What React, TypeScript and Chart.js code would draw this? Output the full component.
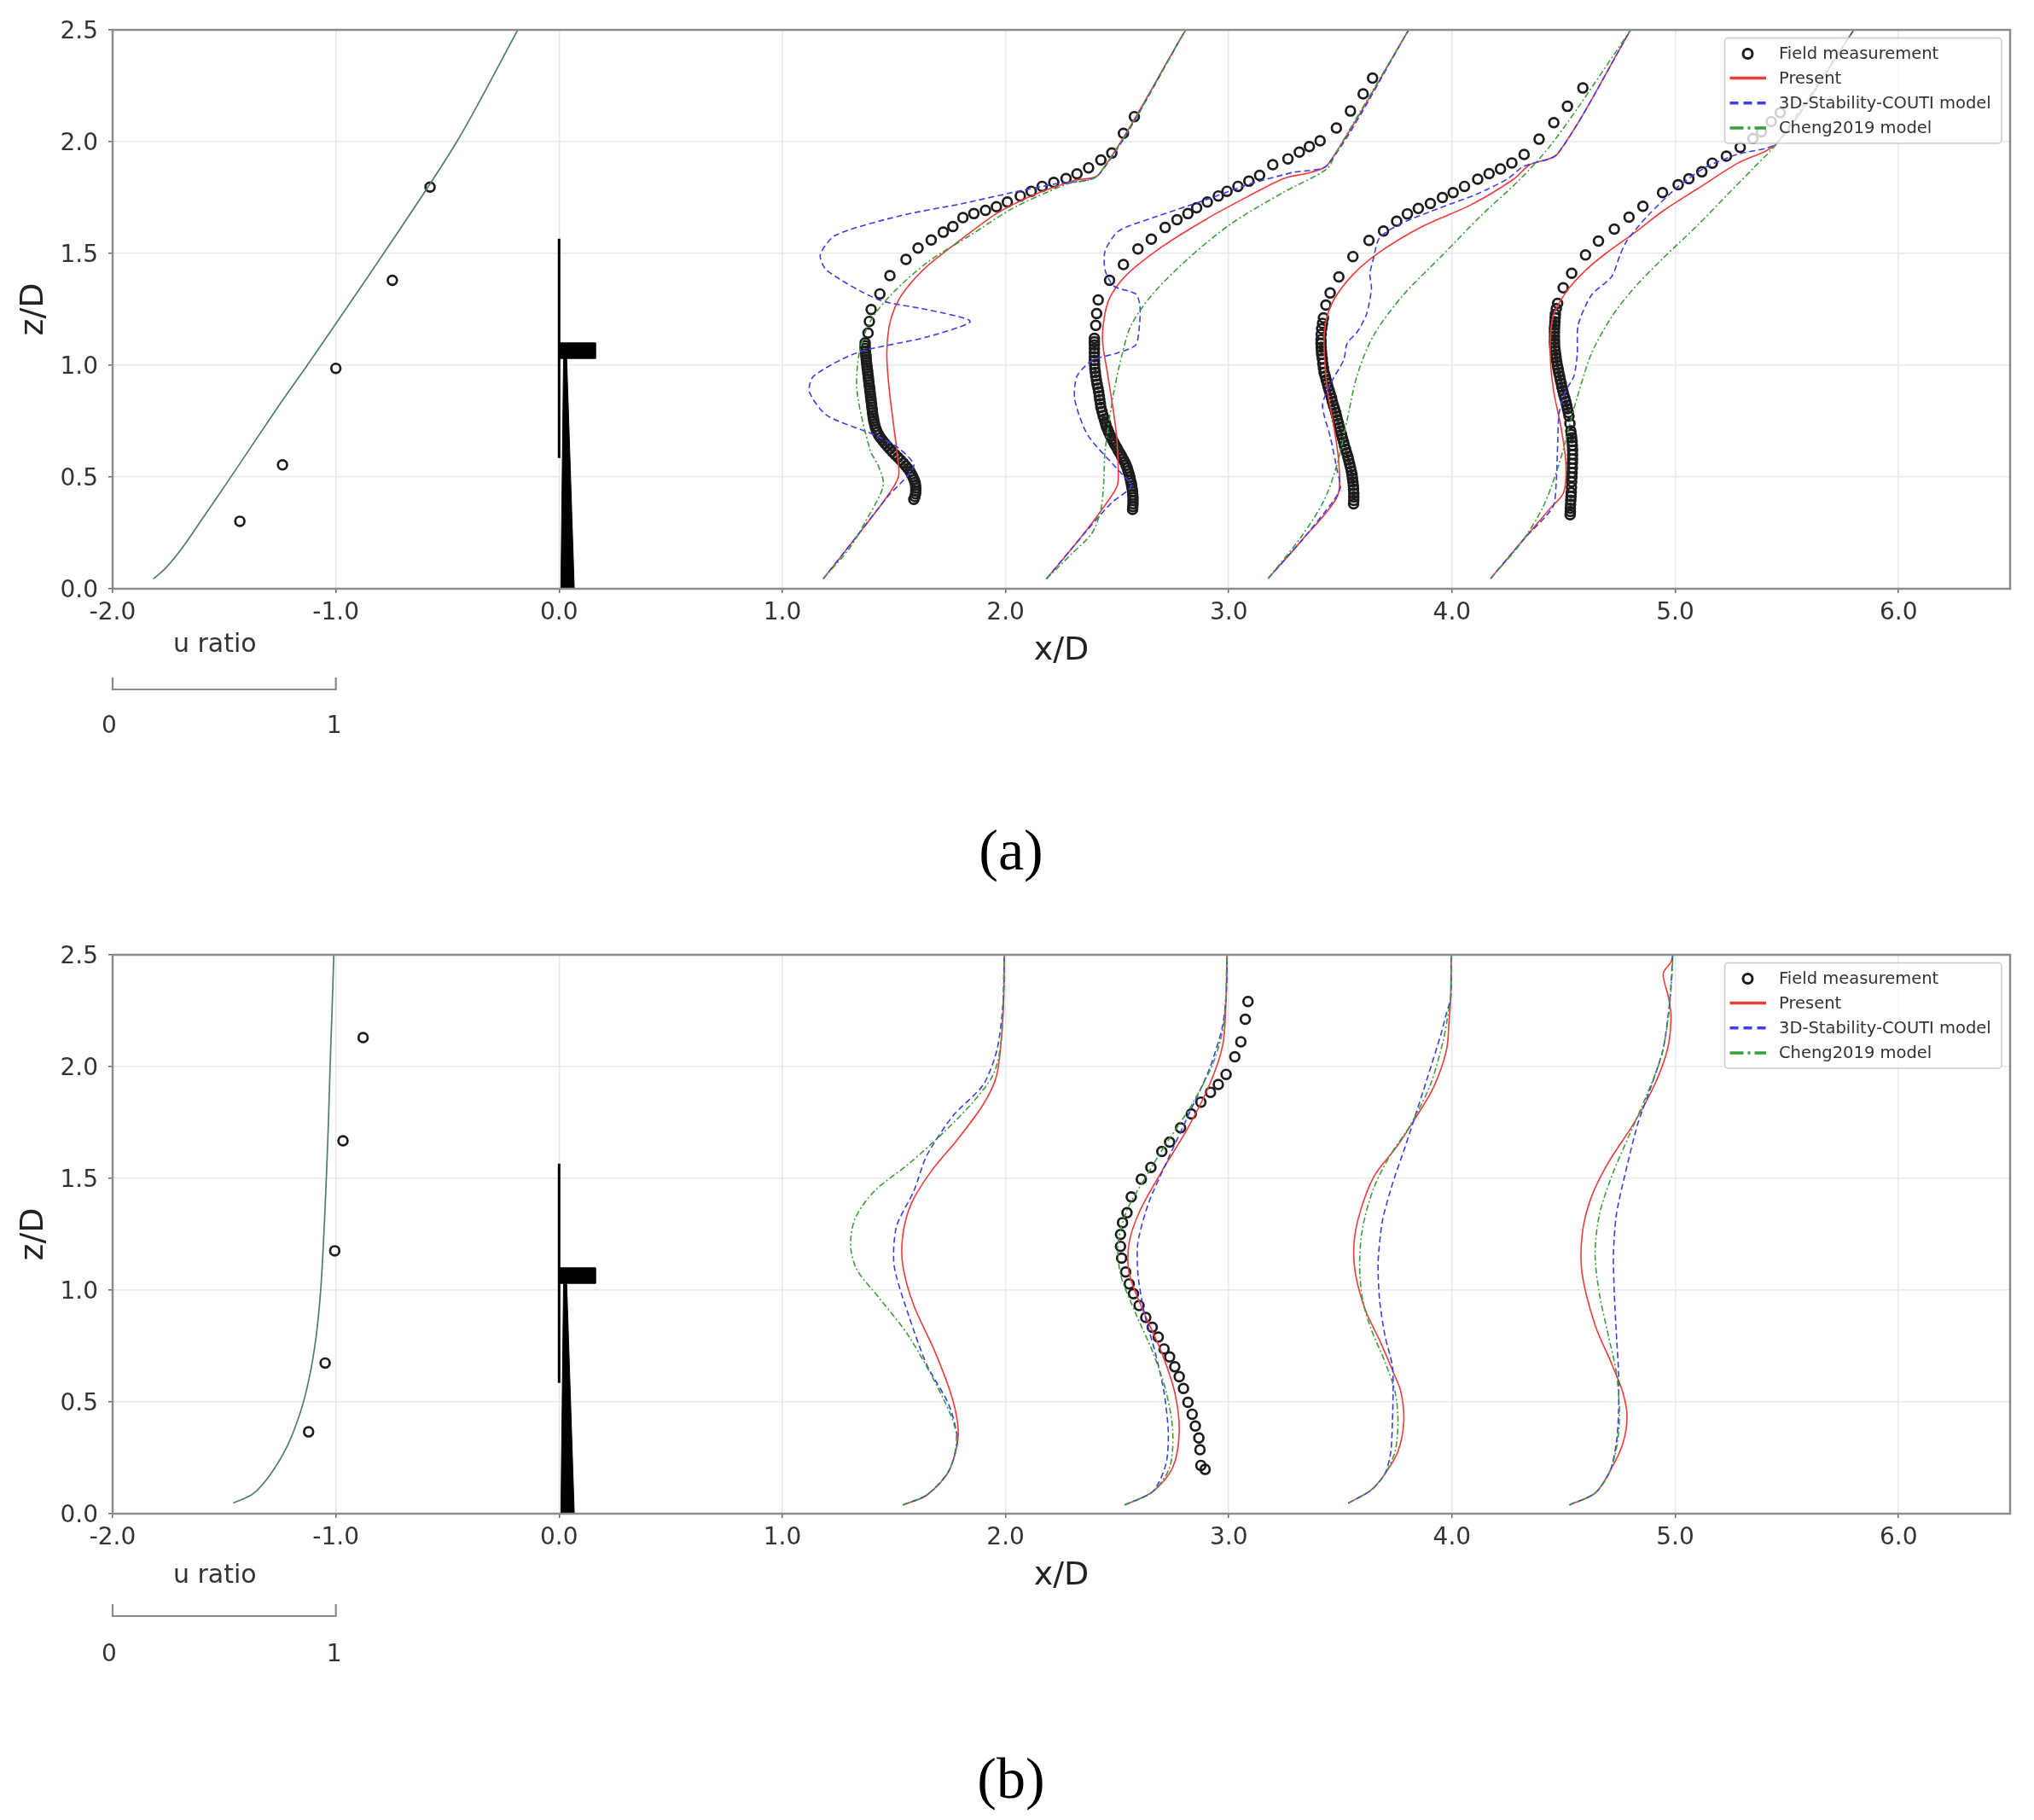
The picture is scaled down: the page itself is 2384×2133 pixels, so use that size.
import React, { useEffect, useRef } from 'react';
import { Chart, registerables } from 'chart.js';

Chart.register(...registerables);

type P = [number, number];

// ---------- axis / legend labels ----------
const xTickValues = [-2, -1, 0, 1, 2, 3, 4, 5, 6];
const yTickValues = [0, 0.5, 1.0, 1.5, 2.0, 2.5];
const legendLabels = ['Field measurement', 'Present', '3D-Stability-COUTI model', 'Cheng2019 model'];
const uRatioBarX = [-2, -1];
const uRatioLabels = ['0', '1'];
const captions = ['(a)', '(b)'];

// ---------- turbine sketch ----------
const rotorLine: P[] = [[0, 0.585], [0, 1.566]];
const nacelleShape: P[] = [[0.004, 1.03], [0.164, 1.03], [0.164, 1.1], [0.004, 1.1], [0.004, 1.03]];
const towerShape: P[] = [[0.008, 0], [0.068, 0], [0.034, 1.03], [0.02, 1.03], [0.008, 0]];

// ================= PANEL (a) =================
const aInflowModel: P[] = [[-1.817, 0.044], [-1.76, 0.095], [-1.69, 0.18], [-1.6, 0.31], [-1.45, 0.53], [-1.255, 0.82], [-1.128, 1.0], [-0.786, 1.5], [-0.458, 2.0], [-0.185, 2.5]];
const aInflowField: P[] = [[-1.43, 0.302], [-1.239, 0.554], [-1.0, 0.986], [-0.747, 1.38], [-0.578, 1.797]];

const aField1: P[] = [[1.589, 0.4], [1.597, 0.425], [1.598, 0.45], [1.595, 0.475], [1.585, 0.5], [1.572, 0.525], [1.553, 0.55], [1.53, 0.575], [1.505, 0.6], [1.482, 0.625], [1.46, 0.65], [1.44, 0.675], [1.425, 0.7], [1.416, 0.725], [1.41, 0.75], [1.406, 0.775], [1.403, 0.8], [1.4, 0.825], [1.397, 0.85], [1.394, 0.875], [1.391, 0.9], [1.388, 0.925], [1.385, 0.95], [1.382, 0.975], [1.379, 1.0], [1.376, 1.025], [1.374, 1.05], [1.371, 1.075], [1.371, 1.1], [1.384, 1.144], [1.39, 1.196], [1.398, 1.249], [1.437, 1.319], [1.482, 1.401], [1.554, 1.473], [1.608, 1.524], [1.667, 1.56], [1.721, 1.595], [1.764, 1.62], [1.809, 1.66], [1.858, 1.678], [1.91, 1.693], [1.959, 1.709], [2.008, 1.73], [2.066, 1.757], [2.115, 1.778], [2.164, 1.8], [2.216, 1.818], [2.271, 1.835], [2.32, 1.856], [2.372, 1.883], [2.427, 1.918], [2.476, 1.949], [2.528, 2.037], [2.577, 2.112],
  [1.594, 0.4125], [1.598, 0.4375], [1.597, 0.4625], [1.59, 0.4875], [1.579, 0.5125], [1.563, 0.5375], [1.542, 0.5625], [1.518, 0.5875], [1.493, 0.6125], [1.471, 0.6375], [1.45, 0.6625], [1.432, 0.6875], [1.42, 0.7125], [1.413, 0.7375], [1.408, 0.7625], [1.404, 0.7875], [1.401, 0.8125], [1.398, 0.8375], [1.395, 0.8625], [1.392, 0.8875], [1.389, 0.9125], [1.386, 0.9375], [1.383, 0.9625], [1.38, 0.9875], [1.377, 1.0125], [1.375, 1.0375], [1.372, 1.0625], [1.371, 1.0875]];
const aField2: P[] = [[2.569, 0.355], [2.571, 0.38], [2.571, 0.408], [2.569, 0.435], [2.565, 0.46], [2.56, 0.485], [2.553, 0.513], [2.545, 0.54], [2.534, 0.566], [2.52, 0.592], [2.505, 0.618], [2.49, 0.645], [2.476, 0.671], [2.462, 0.7], [2.452, 0.725], [2.446, 0.745], [2.437, 0.775], [2.427, 0.811], [2.422, 0.845], [2.417, 0.881], [2.41, 0.915], [2.404, 0.951], [2.4, 0.985], [2.398, 1.021], [2.398, 1.055], [2.398, 1.091], [2.398, 1.12], [2.404, 1.178], [2.408, 1.231], [2.415, 1.292], [2.466, 1.38], [2.528, 1.45], [2.593, 1.52], [2.653, 1.564], [2.715, 1.616], [2.768, 1.651], [2.817, 1.678], [2.856, 1.704], [2.904, 1.73], [2.953, 1.757], [2.992, 1.778], [3.041, 1.8], [3.09, 1.823], [3.138, 1.849], [3.197, 1.897], [3.265, 1.923], [3.316, 1.953], [3.361, 1.978], [3.409, 2.004], [3.482, 2.061], [3.545, 2.137], [3.602, 2.214], [3.644, 2.284],
  [2.57, 0.3675], [2.571, 0.394], [2.57, 0.421], [2.567, 0.4475], [2.563, 0.4725], [2.557, 0.499], [2.549, 0.5265], [2.54, 0.553], [2.527, 0.579], [2.513, 0.605], [2.498, 0.6315], [2.483, 0.658], [2.469, 0.6855], [2.457, 0.7125], [2.449, 0.735], [2.442, 0.76], [2.432, 0.793], [2.425, 0.828], [2.42, 0.863], [2.414, 0.898], [2.407, 0.933], [2.402, 0.968], [2.399, 1.003], [2.398, 1.038], [2.398, 1.073], [2.398, 1.105]];
const aField3: P[] = [[3.559, 0.38], [3.56, 0.41], [3.559, 0.445], [3.556, 0.478], [3.552, 0.51], [3.545, 0.543], [3.537, 0.576], [3.528, 0.608], [3.518, 0.641], [3.509, 0.674], [3.5, 0.706], [3.491, 0.739], [3.483, 0.772], [3.474, 0.805], [3.464, 0.837], [3.455, 0.87], [3.445, 0.902], [3.436, 0.935], [3.427, 0.967], [3.421, 1.008], [3.416, 1.049], [3.414, 1.08], [3.413, 1.114], [3.416, 1.163], [3.424, 1.212], [3.435, 1.269], [3.454, 1.323], [3.493, 1.395], [3.556, 1.486], [3.628, 1.558], [3.693, 1.6], [3.752, 1.644], [3.8, 1.677], [3.849, 1.701], [3.903, 1.723], [3.957, 1.75], [4.005, 1.772], [4.056, 1.8], [4.115, 1.832], [4.166, 1.857], [4.217, 1.878], [4.268, 1.905], [4.323, 1.943], [4.39, 2.011], [4.456, 2.085], [4.517, 2.158], [4.586, 2.24],
  [3.56, 0.395], [3.56, 0.4275], [3.558, 0.4615], [3.554, 0.494], [3.549, 0.5265], [3.541, 0.5595], [3.533, 0.592], [3.523, 0.6245], [3.514, 0.6575], [3.505, 0.69], [3.496, 0.7225], [3.487, 0.7555], [3.479, 0.7885], [3.469, 0.821], [3.46, 0.8535], [3.45, 0.886], [3.441, 0.9185], [3.432, 0.951], [3.424, 0.9875], [3.419, 1.0285], [3.415, 1.0645], [3.413, 1.097], [3.414, 1.1385], [3.42, 1.1875]];
const aField4: P[] = [[4.529, 0.331], [4.53, 0.36], [4.532, 0.396], [4.534, 0.43], [4.536, 0.478], [4.538, 0.52], [4.539, 0.56], [4.54, 0.6], [4.539, 0.641], [4.536, 0.676], [4.532, 0.706], [4.524, 0.772], [4.517, 0.805], [4.51, 0.837], [4.5, 0.87], [4.492, 0.902], [4.485, 0.935], [4.478, 0.967], [4.472, 1.0], [4.466, 1.033], [4.462, 1.065], [4.459, 1.098], [4.459, 1.13], [4.459, 1.163], [4.461, 1.195], [4.463, 1.228], [4.473, 1.277], [4.498, 1.346], [4.536, 1.411], [4.598, 1.493], [4.656, 1.555], [4.727, 1.609], [4.793, 1.662], [4.855, 1.711], [4.943, 1.772], [5.013, 1.807], [5.061, 1.834], [5.119, 1.865], [5.166, 1.904], [5.229, 1.935], [5.291, 1.974], [5.348, 2.014], [5.386, 2.044], [5.43, 2.09], [5.47, 2.13],
  [4.53, 0.3455], [4.531, 0.378], [4.533, 0.413], [4.535, 0.454], [4.537, 0.499], [4.539, 0.54], [4.54, 0.58], [4.54, 0.62], [4.538, 0.6585], [4.534, 0.691], [4.528, 0.739], [4.521, 0.7885], [4.514, 0.821], [4.505, 0.8535], [4.496, 0.886], [4.489, 0.9185], [4.482, 0.951], [4.475, 0.9835], [4.469, 1.0165], [4.464, 1.049], [4.46, 1.0815], [4.459, 1.114], [4.459, 1.1465], [4.46, 1.179], [4.462, 1.2115], [4.467, 1.2525]];

const aPresent1: P[] = [[1.183, 0.044], [1.33, 0.23], [1.46, 0.4], [1.52, 0.5], [1.515, 0.6], [1.5, 0.72], [1.478, 0.9], [1.468, 1.05], [1.478, 1.17], [1.505, 1.26], [1.55, 1.336], [1.647, 1.441], [1.803, 1.564], [1.959, 1.678], [2.115, 1.757], [2.31, 1.827], [2.418, 1.853], [2.807, 2.5]];
const aPresent2: P[] = [[2.183, 0.044], [2.33, 0.22], [2.45, 0.38], [2.5, 0.46], [2.505, 0.53], [2.495, 0.706], [2.456, 0.968], [2.435, 1.1], [2.44, 1.2], [2.466, 1.3], [2.544, 1.406], [2.7, 1.529], [2.895, 1.651], [3.09, 1.757], [3.246, 1.835], [3.363, 1.862], [3.443, 1.896], [3.806, 2.5]];
const aPresent3: P[] = [[3.176, 0.046], [3.33, 0.22], [3.486, 0.413], [3.493, 0.56], [3.471, 0.723], [3.442, 0.886], [3.427, 1.082], [3.435, 1.196], [3.471, 1.294], [3.559, 1.408], [3.676, 1.506], [3.866, 1.62], [4.086, 1.718], [4.276, 1.832], [4.349, 1.897], [4.473, 1.946], [4.8, 2.5]];
const aPresent4: P[] = [[4.173, 0.046], [4.32, 0.22], [4.44, 0.36], [4.5, 0.43], [4.51, 0.56], [4.488, 0.723], [4.455, 0.886], [4.44, 1.049], [4.451, 1.212], [4.51, 1.326], [4.598, 1.424], [4.689, 1.5], [4.817, 1.592], [4.945, 1.69], [5.098, 1.788], [5.277, 1.902], [5.457, 1.995], [5.8, 2.5]];

const aCouti1: P[] = [[1.183, 0.044], [1.33, 0.23], [1.47, 0.41], [1.589, 0.548], [1.52, 0.63], [1.413, 0.688], [1.199, 0.776], [1.121, 0.881], [1.14, 0.951], [1.335, 1.056], [1.647, 1.126], [1.842, 1.196], [1.647, 1.249], [1.433, 1.292], [1.199, 1.424], [1.17, 1.494], [1.238, 1.581], [1.53, 1.669], [1.803, 1.722], [2.037, 1.774], [2.212, 1.809], [2.418, 1.853], [2.807, 2.5]];
const aCouti2: P[] = [[2.183, 0.044], [2.33, 0.22], [2.47, 0.38], [2.563, 0.46], [2.505, 0.53], [2.368, 0.688], [2.31, 0.846], [2.32, 0.951], [2.388, 1.021], [2.505, 1.056], [2.583, 1.091], [2.6, 1.18], [2.602, 1.266], [2.583, 1.319], [2.485, 1.354], [2.446, 1.424], [2.446, 1.511], [2.505, 1.599], [2.661, 1.66], [2.895, 1.739], [3.09, 1.809], [3.285, 1.862], [3.443, 1.896], [3.806, 2.5]];
const aCouti3: P[] = [[3.176, 0.046], [3.33, 0.22], [3.471, 0.396], [3.5, 0.454], [3.486, 0.527], [3.456, 0.674], [3.42, 0.82], [3.456, 0.918], [3.515, 1.024], [3.53, 1.098], [3.574, 1.147], [3.617, 1.228], [3.639, 1.343], [3.632, 1.408], [3.647, 1.473], [3.676, 1.571], [3.778, 1.636], [3.939, 1.701], [4.115, 1.767], [4.247, 1.832], [4.32, 1.889], [4.473, 1.946], [4.8, 2.5]];
const aCouti4: P[] = [[4.173, 0.046], [4.32, 0.22], [4.451, 0.364], [4.466, 0.462], [4.473, 0.641], [4.48, 0.788], [4.51, 0.886], [4.546, 0.951], [4.561, 1.049], [4.565, 1.18], [4.625, 1.314], [4.715, 1.396], [4.753, 1.494], [4.785, 1.559], [4.881, 1.673], [5.009, 1.796], [5.137, 1.886], [5.277, 1.943], [5.457, 1.995], [5.8, 2.5]];

const aCheng1: P[] = [[1.183, 0.044], [1.3, 0.18], [1.374, 0.303], [1.452, 0.461], [1.43, 0.55], [1.394, 0.618], [1.335, 0.881], [1.345, 1.056], [1.394, 1.196], [1.491, 1.319], [1.65, 1.46], [1.842, 1.581], [2.037, 1.704], [2.271, 1.809], [2.418, 1.853], [2.807, 2.5]];
const aCheng2: P[] = [[2.183, 0.044], [2.3, 0.16], [2.388, 0.25], [2.427, 0.355], [2.44, 0.48], [2.446, 0.618], [2.485, 0.88], [2.524, 1.056], [2.563, 1.18], [2.66, 1.319], [2.817, 1.476], [3.012, 1.634], [3.246, 1.774], [3.44, 1.879], [3.48, 1.95], [3.806, 2.5]];
const aCheng3: P[] = [[3.176, 0.046], [3.325, 0.233], [3.427, 0.396], [3.486, 0.56], [3.53, 0.755], [3.574, 0.951], [3.647, 1.13], [3.778, 1.31], [3.954, 1.489], [4.13, 1.669], [4.305, 1.832], [4.437, 1.978], [4.568, 2.158], [4.8, 2.5]];
const aCheng4: P[] = [[4.173, 0.046], [4.305, 0.2], [4.407, 0.364], [4.48, 0.56], [4.524, 0.723], [4.561, 0.857], [4.625, 1.053], [4.715, 1.216], [4.817, 1.347], [4.945, 1.478], [5.098, 1.624], [5.226, 1.755], [5.354, 1.886], [5.457, 1.995], [5.8, 2.5]];

// ================= PANEL (b) =================
const bInflowModel: P[] = [[-1.46, 0.048], [-1.372, 0.088], [-1.294, 0.175], [-1.216, 0.306], [-1.157, 0.46], [-1.118, 0.613], [-1.089, 0.788], [-1.069, 0.985], [-1.056, 1.204], [-1.044, 1.467], [-1.034, 1.729], [-1.026, 1.992], [-1.017, 2.255], [-1.009, 2.5]];
const bInflowField: P[] = [[-1.122, 0.366], [-1.048, 0.674], [-1.005, 1.176], [-0.968, 1.668], [-0.878, 2.13]];

const bField2: P[] = [[2.894, 0.198], [2.875, 0.216], [2.871, 0.286], [2.866, 0.339], [2.85, 0.392], [2.836, 0.445], [2.817, 0.498], [2.797, 0.56], [2.778, 0.613], [2.758, 0.657], [2.735, 0.701], [2.71, 0.737], [2.684, 0.79], [2.657, 0.834], [2.628, 0.878], [2.598, 0.931], [2.573, 0.984], [2.554, 1.028], [2.538, 1.081], [2.52, 1.143], [2.515, 1.196], [2.515, 1.249], [2.524, 1.302], [2.544, 1.346], [2.563, 1.417], [2.608, 1.496], [2.651, 1.549], [2.7, 1.62], [2.735, 1.662], [2.784, 1.726], [2.832, 1.788], [2.875, 1.841], [2.918, 1.885], [2.953, 1.92], [2.988, 1.965], [3.027, 2.044], [3.054, 2.111], [3.074, 2.212], [3.086, 2.291]];

const bPresent1: P[] = [[1.54, 0.039], [1.647, 0.083], [1.745, 0.189], [1.788, 0.348], [1.764, 0.507], [1.686, 0.719], [1.589, 0.931], [1.54, 1.108], [1.54, 1.249], [1.579, 1.39], [1.667, 1.532], [1.784, 1.673], [1.901, 1.832], [1.959, 1.956], [1.982, 2.133], [1.992, 2.309], [1.994, 2.5]];
const bPresent2: P[] = [[2.534, 0.039], [2.661, 0.1], [2.749, 0.207], [2.778, 0.366], [2.758, 0.542], [2.7, 0.719], [2.622, 0.896], [2.554, 1.072], [2.554, 1.214], [2.602, 1.355], [2.7, 1.532], [2.817, 1.726], [2.914, 1.92], [2.973, 2.097], [2.988, 2.309], [2.992, 2.5]];
const bPresent3: P[] = [[3.535, 0.047], [3.637, 0.105], [3.7, 0.179], [3.758, 0.279], [3.784, 0.412], [3.771, 0.545], [3.739, 0.628], [3.675, 0.777], [3.612, 0.91], [3.567, 1.076], [3.561, 1.209], [3.586, 1.342], [3.65, 1.508], [3.752, 1.641], [3.828, 1.757], [3.917, 1.907], [3.975, 2.073], [3.987, 2.206], [3.994, 2.306], [3.996, 2.5]];
const bPresent4: P[] = [[4.526, 0.039], [4.641, 0.092], [4.707, 0.189], [4.765, 0.313], [4.784, 0.436], [4.765, 0.542], [4.717, 0.666], [4.641, 0.843], [4.583, 1.072], [4.583, 1.249], [4.621, 1.408], [4.698, 1.567], [4.813, 1.744], [4.908, 1.92], [4.966, 2.08], [4.981, 2.221], [4.97, 2.309], [4.946, 2.415], [4.981, 2.468], [4.989, 2.5]];

const bCouti1: P[] = [[1.54, 0.039], [1.647, 0.083], [1.745, 0.189], [1.784, 0.33], [1.745, 0.489], [1.647, 0.666], [1.569, 0.878], [1.501, 1.108], [1.511, 1.284], [1.589, 1.443], [1.647, 1.602], [1.764, 1.779], [1.901, 1.92], [1.963, 2.08], [1.99, 2.3], [1.994, 2.5]];
const bCouti2: P[] = [[2.534, 0.039], [2.661, 0.1], [2.719, 0.224], [2.729, 0.366], [2.71, 0.542], [2.671, 0.719], [2.622, 0.896], [2.593, 1.072], [2.593, 1.214], [2.641, 1.39], [2.719, 1.567], [2.817, 1.779], [2.914, 1.991], [2.973, 2.185], [2.99, 2.35], [2.992, 2.5]];
const bCouti3: P[] = [[3.535, 0.047], [3.637, 0.105], [3.7, 0.179], [3.726, 0.279], [3.733, 0.412], [3.736, 0.545], [3.733, 0.661], [3.7, 0.794], [3.675, 0.96], [3.669, 1.126], [3.688, 1.309], [3.733, 1.475], [3.79, 1.641], [3.828, 1.757], [3.892, 1.957], [3.949, 2.14], [3.975, 2.239], [3.994, 2.306], [3.996, 2.5]];
const bCouti4: P[] = [[4.526, 0.039], [4.641, 0.092], [4.707, 0.189], [4.736, 0.313], [4.746, 0.454], [4.746, 0.631], [4.736, 0.807], [4.727, 0.984], [4.723, 1.161], [4.736, 1.337], [4.774, 1.514], [4.832, 1.744], [4.889, 1.903], [4.946, 2.08], [4.975, 2.291], [4.989, 2.5]];

const bCheng1: P[] = [[1.54, 0.039], [1.647, 0.083], [1.745, 0.189], [1.78, 0.348], [1.725, 0.507], [1.569, 0.79], [1.433, 0.966], [1.335, 1.09], [1.306, 1.196], [1.326, 1.32], [1.413, 1.443], [1.569, 1.567], [1.725, 1.708], [1.862, 1.85], [1.949, 1.973], [1.982, 2.133], [1.994, 2.5]];
const bCheng2: P[] = [[2.534, 0.039], [2.661, 0.1], [2.735, 0.207], [2.749, 0.366], [2.72, 0.542], [2.661, 0.719], [2.583, 0.896], [2.515, 1.072], [2.505, 1.214], [2.545, 1.36], [2.622, 1.496], [2.719, 1.655], [2.836, 1.832], [2.934, 2.026], [2.979, 2.203], [2.992, 2.5]];
const bCheng3: P[] = [[3.535, 0.047], [3.637, 0.105], [3.7, 0.179], [3.745, 0.279], [3.758, 0.412], [3.745, 0.545], [3.7, 0.678], [3.637, 0.827], [3.599, 0.96], [3.586, 1.11], [3.599, 1.276], [3.65, 1.458], [3.726, 1.608], [3.815, 1.741], [3.905, 1.924], [3.962, 2.123], [3.983, 2.239], [3.994, 2.306], [3.996, 2.5]];
const bCheng4: P[] = [[4.526, 0.039], [4.641, 0.092], [4.707, 0.189], [4.74, 0.313], [4.75, 0.454], [4.736, 0.631], [4.698, 0.807], [4.66, 0.984], [4.641, 1.161], [4.66, 1.337], [4.717, 1.514], [4.793, 1.691], [4.87, 1.867], [4.937, 2.044], [4.969, 2.221], [4.985, 2.4], [4.989, 2.5]];

// ---------- styles ----------
const FONT = "'DejaVu Sans', 'Liberation Sans', sans-serif";
const COLORS = {
  field: '#1c1c1c',
  present: '#f23a3a',
  couti: '#3c3cf0',
  cheng: '#3a9f3a',
  inflow: '#4f7d72',
  spine: '#8c8c8c',
  grid: '#e9e9e9',
  text: '#333333',
};
const DASH_COUTI = [7, 4];
const DASH_CHENG = [7, 3, 2, 3];

type Panel = {
  inflowModel: P[];
  inflowField: P[];
  field: P[][];
  present: P[][];
  couti: P[][];
  cheng: P[][];
  decor: number[];
};

const panelA: Panel = {
  inflowModel: aInflowModel,
  inflowField: aInflowField,
  field: [aField1, aField2, aField3, aField4],
  present: [aPresent1, aPresent2, aPresent3, aPresent4],
  couti: [aCouti1, aCouti2, aCouti3, aCouti4],
  cheng: [aCheng1, aCheng2, aCheng3, aCheng4],
  decor: [66, 118, 162],
};
const panelB: Panel = {
  inflowModel: bInflowModel,
  inflowField: bInflowField,
  field: [bField2],
  present: [bPresent1, bPresent2, bPresent3, bPresent4],
  couti: [bCouti1, bCouti2, bCouti3, bCouti4],
  cheng: [bCheng1, bCheng2, bCheng3, bCheng4],
  decor: [73, 120, 166],
};

const toXY = (arr: P[]) => arr.map(([x, y]) => ({ x, y }));

function lineDs(label: string, data: P[], color: string, dash: number[], order: number, width = 1.6, tension = 0.3) {
  return {
    label,
    data: toXY(data),
    showLine: true,
    borderColor: color,
    backgroundColor: color,
    borderWidth: width,
    borderDash: dash,
    pointRadius: 0,
    pointHoverRadius: 0,
    tension,
    fill: false,
    order,
  };
}

function buildDatasets(p: Panel) {
  const ds: any[] = [];
  ds.push({ label: 'tower', data: toXY(towerShape), showLine: true, borderColor: '#000', backgroundColor: '#000', borderWidth: 1, pointRadius: 0, tension: 0, fill: 'shape', order: 9 });
  ds.push({ label: 'nacelle', data: toXY(nacelleShape), showLine: true, borderColor: '#000', backgroundColor: '#000', borderWidth: 1, pointRadius: 0, tension: 0, fill: 'shape', order: 9 });
  ds.push({ label: 'rotor', data: toXY(rotorLine), showLine: true, borderColor: '#000', borderWidth: 3, pointRadius: 0, tension: 0, fill: false, order: 9 });
  const allField = [p.inflowField, ...p.field].flat();
  ds.push({
    label: legendLabels[0],
    data: toXY(allField),
    showLine: false,
    pointStyle: 'circle',
    pointRadius: 5.4,
    pointBorderWidth: 2.7,
    borderColor: COLORS.field,
    backgroundColor: 'rgba(255,255,255,0)',
    order: 8,
  });
  ds.push(lineDs('inflow', p.inflowModel, COLORS.inflow, [], 5, 1.7, 0.3));
  p.present.forEach((d) => ds.push(lineDs(legendLabels[1], d, COLORS.present, [], 3)));
  p.couti.forEach((d) => ds.push(lineDs(legendLabels[2], d, COLORS.couti, DASH_COUTI, 2, 1.6, 0.25)));
  p.cheng.forEach((d) => ds.push(lineDs(legendLabels[3], d, COLORS.cheng, DASH_CHENG, 1)));
  return ds;
}

const decorPlugin = {
  id: 'decor',
  afterDatasetsDraw(chart: any) {
    const { ctx, chartArea: ca } = chart;
    ctx.save();
    ctx.strokeStyle = COLORS.spine;
    ctx.lineWidth = 2.5;
    ctx.setLineDash([]);
    ctx.strokeRect(ca.left, ca.top, ca.right - ca.left, ca.bottom - ca.top);

    const L = ca.right - 334.5;
    const T = ca.top + 9.5;
    const W = 324.5;
    const H = 123.5;
    ctx.beginPath();
    if (ctx.roundRect) ctx.roundRect(L, T, W, H, 4);
    else ctx.rect(L, T, W, H);
    ctx.fillStyle = 'rgba(255,255,255,0.8)';
    ctx.fill();
    ctx.strokeStyle = 'rgba(200,200,200,0.9)';
    ctx.lineWidth = 1.5;
    ctx.stroke();

    const rows = [18.5, 47, 76.3, 105.6];
    const sx0 = L + 6;
    const sx1 = L + 48.5;
    ctx.beginPath();
    ctx.arc(L + 27, T + rows[0], 5.5, 0, Math.PI * 2);
    ctx.strokeStyle = COLORS.field;
    ctx.lineWidth = 3;
    ctx.stroke();
    const samples: [string, number[]][] = [
      [COLORS.present, []],
      [COLORS.couti, [10, 6]],
      [COLORS.cheng, [16, 5, 3, 5]],
    ];
    samples.forEach(([c, dash], i) => {
      ctx.beginPath();
      ctx.setLineDash(dash);
      ctx.strokeStyle = c;
      ctx.lineWidth = 3.5;
      ctx.moveTo(sx0, T + rows[i + 1]);
      ctx.lineTo(sx1, T + rows[i + 1]);
      ctx.stroke();
    });
    ctx.setLineDash([]);
    ctx.fillStyle = COLORS.text;
    ctx.font = `19.5px ${FONT}`;
    ctx.textAlign = 'left';
    ctx.textBaseline = 'middle';
    legendLabels.forEach((t, i) => ctx.fillText(t, L + 63.5, T + rows[i] + 1));
    ctx.restore();
  },
  afterDraw(chart: any, _args: any, opts: any) {
    const { ctx, chartArea: ca } = chart;
    const xs = chart.scales.x;
    const off: number[] = opts.decor || [66, 118, 162];
    const x0 = xs.getPixelForValue(uRatioBarX[0]);
    const x1 = xs.getPixelForValue(uRatioBarX[1]);
    ctx.save();
    ctx.fillStyle = COLORS.text;
    ctx.textAlign = 'center';
    ctx.textBaseline = 'middle';
    ctx.font = `30px ${FONT}`;
    ctx.fillText('u ratio', (x0 + x1) / 2 - 11, ca.bottom + off[0]);
    const yb = ca.bottom + off[1];
    ctx.strokeStyle = '#8a8a8a';
    ctx.lineWidth = 2.2;
    ctx.beginPath();
    ctx.moveTo(x0, yb - 14);
    ctx.lineTo(x0, yb);
    ctx.lineTo(x1, yb);
    ctx.lineTo(x1, yb - 14);
    ctx.stroke();
    ctx.font = `28px ${FONT}`;
    ctx.fillText(uRatioLabels[0], x0 - 4, ca.bottom + off[2]);
    ctx.fillText(uRatioLabels[1], x1 - 2, ca.bottom + off[2]);
    ctx.restore();
  },
};

function makeConfig(p: Panel): any {
  const tickFont = { family: FONT, size: 28, lineHeight: 1.2 };
  const titleFont = { family: FONT, size: 38, lineHeight: 1.2 };
  return {
    type: 'scatter',
    data: { datasets: buildDatasets(p) },
    plugins: [decorPlugin],
    options: {
      responsive: false,
      animation: false,
      devicePixelRatio: 1,
      events: [],
      layout: { padding: { top: 35, right: 28, bottom: 114, left: 0 } },
      plugins: {
        legend: { display: false },
        tooltip: { enabled: false },
        decor: { decor: p.decor },
      },
      scales: {
        x: {
          type: 'linear',
          min: -2,
          max: 6.5,
          afterBuildTicks: (s: any) => {
            s.ticks = xTickValues.map((v) => ({ value: v }));
          },
          afterFit: (s: any) => {
            s.height = 96;
          },
          ticks: {
            callback: (v: any) => Number(v).toFixed(1),
            font: tickFont,
            color: COLORS.text,
            padding: 7,
            maxRotation: 0,
            autoSkip: false,
          },
          grid: { color: COLORS.grid, lineWidth: 1.5, drawTicks: true, tickLength: 5, tickColor: '#666', tickWidth: 1.5 },
          border: { display: false },
          title: { display: true, text: 'x/D', font: titleFont, color: '#222', padding: { top: 0, bottom: 0 } },
        },
        y: {
          type: 'linear',
          min: 0,
          max: 2.5,
          afterBuildTicks: (s: any) => {
            s.ticks = yTickValues.map((v) => ({ value: v }));
          },
          afterFit: (s: any) => {
            s.width = 132;
          },
          ticks: {
            callback: (v: any) => Number(v).toFixed(1),
            font: tickFont,
            color: COLORS.text,
            padding: 12,
            labelOffset: 3,
          },
          grid: { color: COLORS.grid, lineWidth: 1.5, drawTicks: true, tickLength: 5, tickColor: '#666', tickWidth: 1.5 },
          border: { display: false },
          title: { display: true, text: 'z/D', font: titleFont, color: '#222', padding: { top: 17, bottom: 0 } },
        },
      },
    },
  };
}

function PanelChart({ panel, top }: { panel: Panel; top: number }) {
  const ref = useRef<HTMLCanvasElement | null>(null);
  useEffect(() => {
    if (!ref.current) return;
    const chart = new Chart(ref.current, makeConfig(panel));
    return () => chart.destroy();
  }, [panel]);
  return (
    <canvas
      ref={ref}
      width={2384}
      height={900}
      style={{ position: 'absolute', left: 0, top, width: 2384, height: 900 }}
    />
  );
}

function Caption({ text, cy }: { text: string; cy: number }) {
  return (
    <div
      style={{
        position: 'absolute',
        left: 1085,
        top: cy - 40,
        width: 200,
        height: 80,
        lineHeight: '80px',
        textAlign: 'center',
        fontFamily: "'Liberation Serif', 'Times New Roman', serif",
        fontSize: 68,
        color: '#000',
      }}
    >
      {text}
    </div>
  );
}

export default function App() {
  return (
    <div style={{ position: 'absolute', left: 0, top: 0, width: 2384, height: 2133, background: '#fff', overflow: 'hidden' }}>
      <PanelChart panel={panelA} top={0} />
      <Caption text={captions[0]} cy={996} />
      <PanelChart panel={panelB} top={1084} />
      <Caption text={captions[1]} cy={2084} />
    </div>
  );
}
